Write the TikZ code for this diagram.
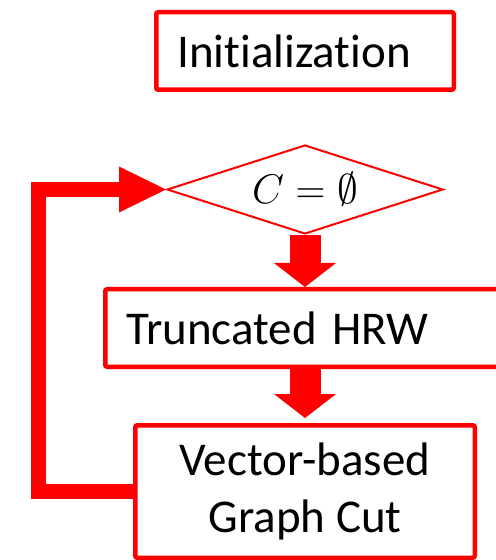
\documentclass[tikz,border=0pt]{standalone}
\usepackage{fontspec}
\setmainfont{Carlito}[Ligatures=NoCommon]
\usetikzlibrary{arrows.meta, calc, positioning, shapes.geometric}

\begin{document}
\begin{tikzpicture}[
    x=0.5pt, y=-0.5pt,
    every node/.style={font=\fontsize{23.5}{28.5}\selectfont},
    box/.style ={draw=red, line width=2.25pt, rounded corners=1pt,
                 inner xsep=10.5pt, minimum height=38.75pt},
    test/.style={draw=red, line width=1pt, diamond, shape aspect=3,
                 inner sep=0pt, minimum width=138pt, minimum height=44.5pt,
                 font=\fontsize{22}{26}\selectfont},
    flow/.style={red, line width=15.5pt,
                 -{Triangle[width=31pt, length=12pt, line width=0pt]}},
    feedback/.style={red, line width=7.5pt,
                 -{Triangle[width=23pt, length=23.5pt, line width=0pt]}},
]
\useasboundingbox (0,0) rectangle (495,560);

% --- steps ---
\node[box, text width=127.75pt, align=left] (init) at (305,51) {Initialization};
\node[test, below=26pt of init] (cond) {$C=\emptyset$};
\node[box, text width=182.75pt, align=left] (trunc) at (309,328) {Truncated HRW};
\node[box, minimum width=169.75pt, minimum height=66.25pt, align=center]
     (vgc) at (305,491.5) {Vector-based\\Graph Cut};

% --- arrows ---
\draw[flow] (cond.south) -- (cond.south |- trunc.north);
\draw[flow, shorten >=2.5pt] (trunc.south -| cond.south) -- (cond.south |- vgc.north);

% back to the test after each cut
\coordinate (back) at (38.5,0);
\draw[feedback] (vgc.west) -| (back |- cond.west) -- (cond.west);
\end{tikzpicture}
\end{document}
